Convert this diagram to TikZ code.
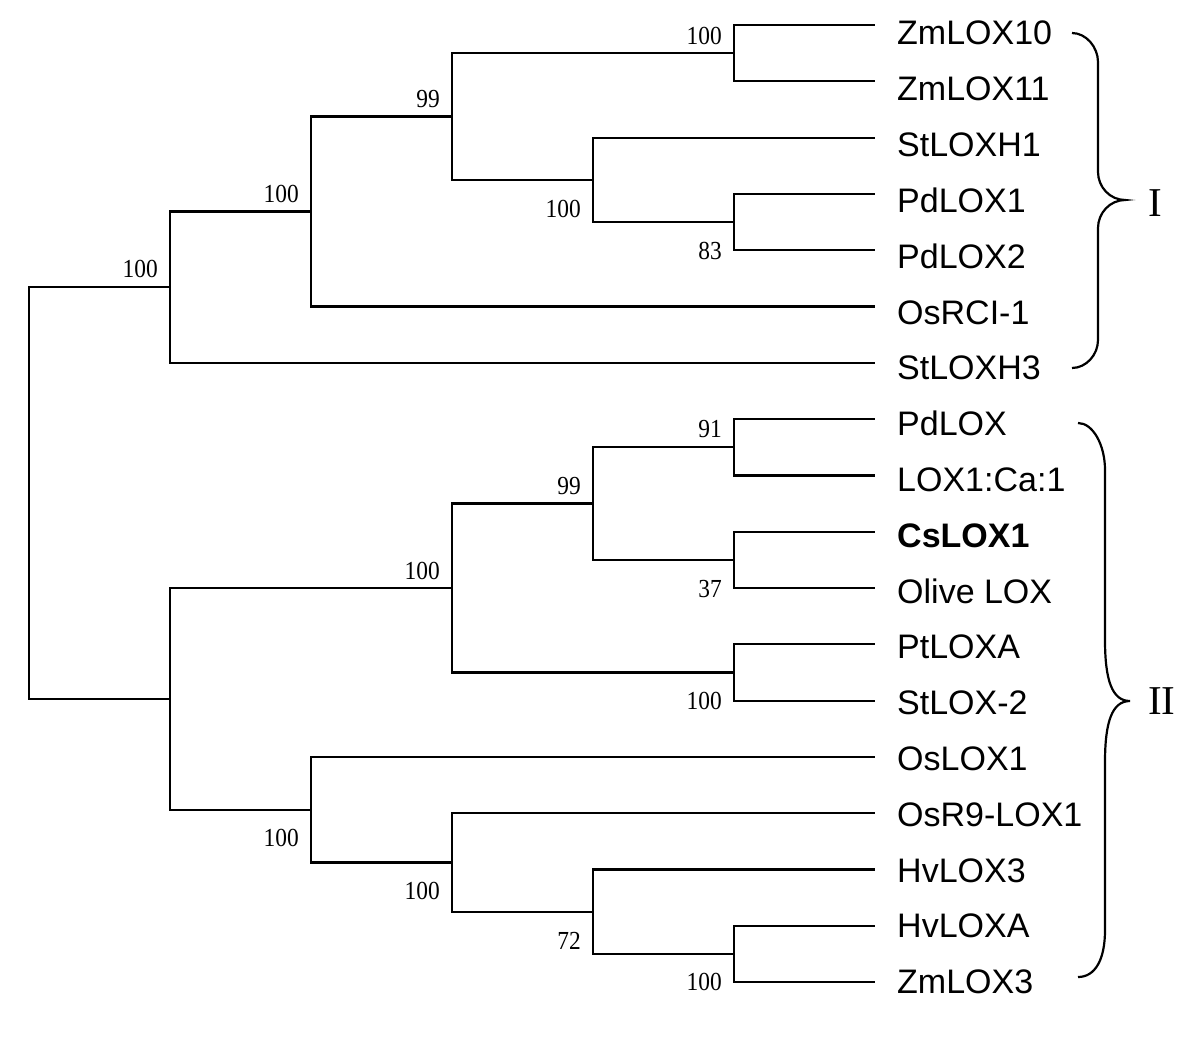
\documentclass[tikz,border=0pt]{standalone}
\usepackage{fontspec}
\setmainfont{Liberation Serif}
\setsansfont{Liberation Sans}
\newfontfamily\bootfont[FakeStretch=0.9]{Liberation Serif}
\usetikzlibrary{positioning}
\tikzset{
  branch/.style={line width=2.2pt, line join=miter},
  leaf/.style={anchor=base west, inner sep=0pt, font=\sffamily\fontsize{34}{40}\selectfont},
  boot/.style={anchor=east, inner sep=0pt, font=\bootfont\fontsize{26}{30}\selectfont},
  clade/.style={anchor=west, inner sep=0pt, font=\fontsize{41}{48}\selectfont},
  brace/.style={line width=2.2pt}
}

\begin{document}
\begin{tikzpicture}[x=1pt, y=-1pt]
  \useasboundingbox (0,0) rectangle (1200,1060);
  % leaves: tip of the branch and its name
  \foreach \name [count=\i from 0] in {ZmLOX10, ZmLOX11, StLOXH1, PdLOX1, PdLOX2, OsRCI-1, StLOXH3, PdLOX, LOX1:Ca:1, \textbf{CsLOX1}, Olive LOX, PtLOXA, StLOX-2, OsLOX1, OsR9-LOX1, HvLOX3, HvLOXA, ZmLOX3} {
    \coordinate (t\i) at (875, {25+56.3*\i});
    \node[leaf] (l\i) at (897, {45+55.8*\i}) {\name};
  }
  % inner nodes of clade I
  \coordinate (zm) at (734,53.15);
  \coordinate (pd) at (734,222.05);
  \coordinate (sth) at (593,179.8);
  \coordinate (upa) at (452,116.5);
  \coordinate (upb) at (311,211.5);
  \coordinate (cladeI) at (170,287.1);
  % inner nodes of clade II
  \coordinate (pdl) at (734,447.25);
  \coordinate (cs) at (734,559.85);
  \coordinate (csa) at (593,503.55);
  \coordinate (pt) at (734,672.45);
  \coordinate (csb) at (452,588);
  \coordinate (hv) at (734,953.95);
  \coordinate (hva) at (593,911.7);
  \coordinate (hvb) at (452,862.45);
  \coordinate (os) at (311,809.7);
  \coordinate (cladeII) at (170,698.85);
  \coordinate (root) at (29,493);

  \draw[branch] (zm) |- (t0) (zm) |- (t1);
  \draw[branch] (pd) |- (t3) (pd) |- (t4);
  \draw[branch] (sth) |- (t2) (sth) |- (pd);
  \draw[branch] (upa) |- (zm) (upa) |- (sth);
  \draw[branch] (upb) |- (upa) (upb) |- (t5);
  \draw[branch] (cladeI) |- (upb) (cladeI) |- (t6);
  \draw[branch] (pdl) |- (t7) (pdl) |- (t8);
  \draw[branch] (cs) |- (t9) (cs) |- (t10);
  \draw[branch] (csa) |- (pdl) (csa) |- (cs);
  \draw[branch] (pt) |- (t11) (pt) |- (t12);
  \draw[branch] (csb) |- (csa) (csb) |- (pt);
  \draw[branch] (hv) |- (t16) (hv) |- (t17);
  \draw[branch] (hva) |- (t15) (hva) |- (hv);
  \draw[branch] (hvb) |- (t14) (hvb) |- (hva);
  \draw[branch] (os) |- (t13) (os) |- (hvb);
  \draw[branch] (cladeII) |- (csb) (cladeII) |- (os);
  \draw[branch] (root) |- (cladeI) (root) |- (cladeII);

  % bootstrap values
  \node[boot] (bzm) at (722,36) {100};
  \node[boot] (bpd) at (722,251) {83};
  \node[boot] (bupa) at (440,99) {99};
  \node[boot] (bsth) at (581,209) {100};
  \node[boot] (bupb) at (299,194) {100};
  \node[boot] (bcladeI) at (158,269) {100};
  \node[boot] (bpdl) at (722,429) {91};
  \node[boot] (bcs) at (722,589) {37};
  \node[boot] (bpt) at (722,701) {100};
  \node[boot] (bcsa) at (581,486) {99};
  \node[boot] (bcsb) at (440,571) {100};
  \node[boot] (bos) at (299,838) {100};
  \node[boot] (bhvb) at (440,891) {100};
  \node[boot] (bhva) at (581,941) {72};
  \node[boot] (bhv) at (722,982) {100};

  % groups
  \draw[brace] (1072,33) .. controls (1086,33) and (1098,47) .. (1098,62) -- (1098,172)
    .. controls (1098,187) and (1110,200) .. (1125,200)
    .. controls (1110,200) and (1098,213) .. (1098,228) -- (1098,340)
    .. controls (1098,355) and (1086,368) .. (1072,368);
  \draw[brace] (1078,423) .. controls (1093,423) and (1105,445) .. (1105,470) -- (1105,640)
    .. controls (1105,680) and (1112,701) .. (1130,701)
    .. controls (1112,701) and (1105,722) .. (1105,762) -- (1105,930)
    .. controls (1105,960) and (1095,977) .. (1078,977);
  \node[clade] (gI) at (1148,203) {I};
  \node[clade] (gII) at (1148,701) {II};
\end{tikzpicture}
\end{document}
